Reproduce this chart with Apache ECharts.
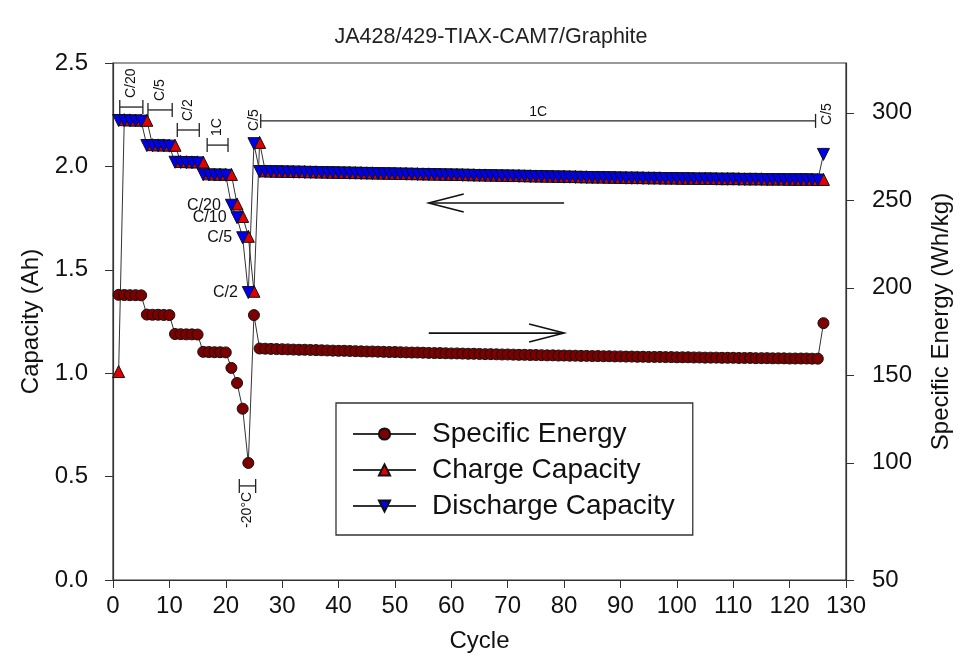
<!DOCTYPE html>
<html><head><meta charset="utf-8">
<script src="https://cdn.jsdelivr.net/npm/echarts@6/dist/echarts.min.js"></script>
<style>html,body{margin:0;padding:0;background:#fff}#c{width:962px;height:672px}</style>
</head><body><div id="c"></div>
<script>
// ---------- DATA (value index i -> cycle i+1) ----------
const chartTitle = 'JA428/429-TIAX-CAM7/Graphite';
const xTickValues = [0,10,20,30,40,50,60,70,80,90,100,110,120,130];
const rightTickValues = [33,100,150,200,250,300];
const rightTickLabels = ['50','100','150','200','250','300'];

// Specific energy (Wh/kg), cycles 1..126
const specificEnergy = [
 196.0,195.9,195.8,195.8,195.7,
 184.7,184.6,184.6,184.5,184.4,
 173.6,173.5,173.4,173.4,173.3,
 163.4,163.3,163.2,163.2,163.1,
 154.2,145.6,130.9,99.9,184.4,
 165.3,165.2,165.1,165.0,164.9,164.8,164.7,164.6,164.6,164.5,
 164.4,164.3,164.2,164.1,164.0,164.0,163.9,163.8,163.7,163.6,
 163.6,163.5,163.4,163.3,163.3,163.2,163.1,163.0,163.0,162.9,
 162.8,162.7,162.7,162.6,162.5,162.5,162.4,162.3,162.3,162.2,
 162.1,162.1,162.0,161.9,161.9,161.8,161.7,161.7,161.6,161.6,
 161.5,161.4,161.4,161.3,161.3,161.2,161.2,161.1,161.1,161.0,
 161.0,160.9,160.9,160.8,160.8,160.7,160.7,160.6,160.6,160.5,
 160.5,160.5,160.4,160.4,160.3,160.3,160.3,160.2,160.2,160.1,
 160.1,160.1,160.0,160.0,160.0,159.9,159.9,159.9,159.8,159.8,
 159.8,159.7,159.7,159.7,159.6,159.6,159.6,159.6,159.5,159.5,
 179.8
];

// Charge capacity (Ah), cycles 1..126
const chargeCapacity = [
 1.008,
 2.226,2.225,2.224,2.224,2.223,
 2.105,2.104,2.104,2.103,2.102,
 2.024,2.023,2.022,2.022,2.021,
 1.964,1.963,1.962,1.962,1.961,
 1.818,1.758,1.662,1.396,2.116,
 1.978,1.978,1.977,1.977,1.976,1.976,1.975,1.975,1.974,1.974,
 1.973,1.973,1.972,1.972,1.971,1.971,1.970,1.970,1.969,1.969,
 1.968,1.968,1.967,1.967,1.966,1.966,1.965,1.965,1.964,1.964,
 1.963,1.963,1.962,1.962,1.961,1.961,1.960,1.960,1.959,1.959,
 1.958,1.958,1.957,1.957,1.956,1.956,1.955,1.955,1.954,1.954,
 1.953,1.953,1.952,1.952,1.951,1.951,1.950,1.950,1.949,1.949,
 1.949,1.948,1.948,1.947,1.947,1.946,1.946,1.946,1.945,1.945,
 1.945,1.944,1.944,1.944,1.943,1.943,1.943,1.942,1.942,1.942,
 1.942,1.941,1.941,1.941,1.941,1.940,1.940,1.940,1.940,1.939,
 1.939,1.939,1.939,1.938,1.938,1.938,1.938,1.938,1.937,1.937
];

// Discharge capacity (Ah), cycles 1..126
const dischargeCapacity = [
 2.222,2.221,2.220,2.220,2.219,
 2.101,2.100,2.100,2.099,2.098,
 2.020,2.019,2.018,2.018,2.017,
 1.960,1.959,1.958,1.958,1.957,
 1.812,1.752,1.655,1.390,2.110,
 1.975,1.975,1.974,1.974,1.973,1.973,1.972,1.972,1.971,1.971,
 1.970,1.970,1.969,1.969,1.968,1.968,1.967,1.967,1.966,1.966,
 1.965,1.965,1.964,1.964,1.963,1.963,1.962,1.962,1.961,1.961,
 1.960,1.960,1.959,1.959,1.958,1.958,1.957,1.957,1.956,1.956,
 1.955,1.955,1.954,1.954,1.953,1.953,1.952,1.952,1.951,1.951,
 1.950,1.950,1.949,1.949,1.948,1.948,1.947,1.947,1.946,1.946,
 1.946,1.945,1.945,1.944,1.944,1.943,1.943,1.943,1.942,1.942,
 1.942,1.941,1.941,1.941,1.940,1.940,1.940,1.939,1.939,1.939,
 1.939,1.938,1.938,1.938,1.938,1.937,1.937,1.937,1.937,1.936,
 1.936,1.936,1.936,1.935,1.935,1.935,1.935,1.935,1.934,1.934,
 2.058
];

// Rate labels on the -20°C discharge points
const rateLabelCycles = [21,22,23,24];
const rateLabelTexts = ['C/20','C/10','C/5','C/2'];

// Rate brackets (cycle range, capacity level) with rotated labels
const bracketTexts  = ['C/20','C/5','C/2','1C'];
const bracketFrom   = [1.2, 6.2, 11.4, 16.7];
const bracketTo     = [5.3, 10.5, 15.3, 20.4];
const bracketLevel  = [2.287, 2.273, 2.176, 2.103];
// long 1C bracket
const longBracket = {text:'1C', from:26.2, to:124.6, level:2.22, leftText:'C/5', leftAt:25.0, rightText:'C/5', rightAt:126.6};
// -20°C bracket
const coldBracket = {text:'-20°C', from:22.4, to:25.3, level:0.455};
// arrows: [from cycle, to cycle, capacity level]
const arrowFrom = [80, 56];
const arrowTo   = [56, 80];
const arrowLevel = [1.823, 1.194];

// ---------- CHART ----------
const FONT = 'Liberation Sans, Arial, sans-serif';
const AX = '#333';
const chart = echarts.init(document.getElementById('c'));
const pts = arr => arr.map((v,i)=>[i+1, v]);

const dischargeData = dischargeCapacity.map((v,i)=>{
  const k = rateLabelCycles.indexOf(i+1);
  if (k < 0) return [i+1, v];
  return {value:[i+1, v], label:{show:true, position:'left', distance:4, formatter:rateLabelTexts[k],
    fontSize:16, color:'#111', fontFamily:FONT}};
});

const lineStyle = {color:'#333', width:1};
chart.setOption({
  animation:false,
  backgroundColor:'#fff',
  title:{text:chartTitle, left:486, top:21, textAlign:'center',
    textStyle:{fontSize:21.5, fontWeight:'normal', color:'#222', fontFamily:FONT}},
  grid:{left:113, right:116, top:63, bottom:92, show:true, borderColor:AX, borderWidth:1.2},
  legend:{
    left:336, top:403, orient:'vertical', itemWidth:63, itemHeight:14, itemGap:6,
    padding:[16,18,14,16], borderColor:AX, borderWidth:1.3, backgroundColor:'#fff',
    textStyle:{fontSize:28, color:'#111', fontFamily:FONT, lineHeight:30, padding:[0,0,0,11]},
    data:['Specific Energy','Charge Capacity','Discharge Capacity']
  },
  xAxis:{type:'value', min:0, max:130, interval:10,
    name:'Cycle', nameLocation:'middle', nameGap:49,
    nameTextStyle:{fontSize:24, color:'#111', fontFamily:FONT},
    axisLine:{show:true, lineStyle:{color:AX, width:1.2}},
    axisTick:{show:true, length:8, lineStyle:{color:AX}},
    axisLabel:{fontSize:24, color:'#111', fontFamily:FONT, margin:14, customValues:xTickValues},
    splitLine:{show:false}},
  yAxis:[
    {type:'value', min:0, max:2.5, interval:0.5, position:'left',
     name:'Capacity (Ah)', nameLocation:'middle', nameGap:70, nameRotate:90,
     nameTextStyle:{fontSize:24, color:'#111', fontFamily:FONT},
     axisLine:{show:true, lineStyle:{color:AX, width:1.2}},
     axisTick:{show:true, length:8, lineStyle:{color:AX}},
     axisLabel:{fontSize:24, color:'#111', fontFamily:FONT, margin:25, formatter:v=>v.toFixed(1)},
     splitLine:{show:false}},
    {type:'value', min:33, max:328.5, position:'right',
     name:'Specific Energy (Wh/kg)', nameLocation:'middle', nameGap:83, nameRotate:90,
     nameTextStyle:{fontSize:24, color:'#111', fontFamily:FONT},
     axisLine:{show:true, lineStyle:{color:AX, width:1.2}},
     axisTick:{show:true, length:8, lineStyle:{color:AX}, customValues:rightTickValues},
     axisLabel:{fontSize:24, color:'#111', fontFamily:FONT, margin:26, customValues:rightTickValues,
       formatter:v=>{const k=rightTickValues.indexOf(v); return k<0?'':rightTickLabels[k];}},
     splitLine:{show:false}}
  ],
  series:[
    {name:'Specific Energy', type:'line', yAxisIndex:1, data:pts(specificEnergy),
     symbol:'circle', symbolSize:11, lineStyle:lineStyle,
     itemStyle:{color:'#7d0000', borderColor:'#111', borderWidth:1}},
    {name:'Charge Capacity', type:'line', yAxisIndex:0, data:pts(chargeCapacity),
     symbol:'triangle', symbolSize:12, lineStyle:lineStyle,
     itemStyle:{color:'#e00000', borderColor:'#111', borderWidth:1}},
    {name:'Discharge Capacity', type:'line', yAxisIndex:0, data:dischargeData,
     symbol:'triangle', symbolSize:12, symbolRotate:180, lineStyle:lineStyle,
     itemStyle:{color:'#0000ee', borderColor:'#111', borderWidth:1}}
  ]
});

// ---------- ANNOTATIONS (placed through the axes) ----------
function P(x,y){ return chart.convertToPixel({xAxisIndex:0, yAxisIndex:0}, [x,y]); }
const G = [];
const ST = {stroke:'#222', lineWidth:1.3};
function seg(a,b){ G.push({type:'line', silent:true, shape:{x1:a[0],y1:a[1],x2:b[0],y2:b[1]}, style:ST}); }
function bracket(x1,x2,lev){
  const a=P(x1,lev), b=P(x2,lev);
  seg(a,b); seg([a[0],a[1]-7],[a[0],a[1]+7]); seg([b[0],b[1]-7],[b[0],b[1]+7]);
  return [a,b];
}
function txt(x,y,text,size,rot,align,valign){
  G.push({type:'text', silent:true, x:x, y:y, rotation:rot,
    style:{text:text, fontSize:size, fontFamily:FONT, fill:'#111',
      align:align, textAlign:align, verticalAlign:valign, textVerticalAlign:valign}});
}
for (let i=0;i<bracketTexts.length;i++){
  const [a,b] = bracket(bracketFrom[i], bracketTo[i], bracketLevel[i]);
  txt((a[0]+b[0])/2, a[1]-9, bracketTexts[i], 14, Math.PI/2, 'left', 'middle');
}
{
  const [a,b] = bracket(longBracket.from, longBracket.to, longBracket.level);
  txt((a[0]+b[0])/2, a[1]-2, longBracket.text, 14, 0, 'center', 'bottom');
  const l = P(longBracket.leftAt, longBracket.level);
  txt(l[0], l[1]+10, longBracket.leftText, 14, Math.PI/2, 'left', 'middle');
  const r = P(longBracket.rightAt, longBracket.level);
  txt(r[0], r[1]+4, longBracket.rightText, 14, Math.PI/2, 'left', 'middle');
}
{
  const [a,b] = bracket(coldBracket.from, coldBracket.to, coldBracket.level);
  txt((a[0]+b[0])/2, a[1]+6, coldBracket.text, 14, Math.PI/2, 'right', 'middle');
}
for (let i=0;i<arrowFrom.length;i++){
  const a=P(arrowFrom[i], arrowLevel[i]), b=P(arrowTo[i], arrowLevel[i]);
  const dir = b[0] > a[0] ? -1 : 1;
  const AS = {stroke:'#111', lineWidth:1.6};
  G.push({type:'line', silent:true, shape:{x1:a[0],y1:a[1],x2:b[0],y2:b[1]}, style:AS});
  G.push({type:'polyline', silent:true, shape:{points:[[b[0]+dir*35,b[1]-9],[b[0],b[1]],[b[0]+dir*35,b[1]+9]]}, style:AS});
}
chart.setOption({graphic:{elements:G}});
</script>
</body></html>
